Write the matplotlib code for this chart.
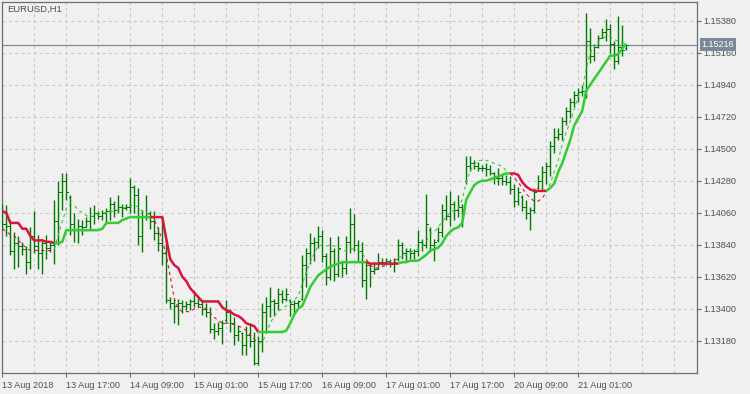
import matplotlib
matplotlib.use("Agg")
import matplotlib.pyplot as plt

plt.rcParams['font.family'] = ['Liberation Sans', 'DejaVu Sans']

# EURUSD H1 bars (index 0 = 13 Aug 2018 01:00)
highs = [1.1412, 1.1411, 1.1401, 1.1393, 1.1390, 1.1386, 1.1383, 1.1396, 1.1407, 1.1391,
         1.1388, 1.1391, 1.1386, 1.1415, 1.1428, 1.1433, 1.1433, 1.1418, 1.1406, 1.1402,
         1.1401, 1.1403, 1.1410, 1.1411, 1.1407, 1.1408, 1.1409, 1.1417, 1.1414, 1.1418,
         1.1412, 1.1412, 1.1430, 1.1425, 1.1423, 1.1408, 1.1418, 1.1407, 1.1407, 1.1396,
         1.1403, 1.1388, 1.1348, 1.1347, 1.1347, 1.1346, 1.1345, 1.1347, 1.1352, 1.1349,
         1.1345, 1.1344, 1.1341, 1.1330, 1.1331, 1.1332, 1.1346, 1.1340, 1.1334, 1.1329,
         1.1324, 1.1328, 1.1330, 1.1324, 1.1321, 1.1344, 1.1348, 1.1355, 1.1347, 1.1354,
         1.1353, 1.1354, 1.1347, 1.1346, 1.1346, 1.1377, 1.1382, 1.1392, 1.1389, 1.1397,
         1.1394, 1.1378, 1.1389, 1.1382, 1.1390, 1.1373, 1.1390, 1.1409, 1.1405, 1.1387,
         1.1386, 1.1373, 1.1371, 1.1372, 1.1378, 1.1375, 1.1375, 1.1374, 1.1375, 1.1388,
         1.1386, 1.1382, 1.1382, 1.1381, 1.1394, 1.1388, 1.1419, 1.1396, 1.1388, 1.1396,
         1.1412, 1.1418, 1.1421, 1.1414, 1.1418, 1.1412, 1.1445, 1.1445, 1.1442, 1.1441,
         1.1439, 1.1440, 1.1439, 1.1434, 1.1437, 1.1432, 1.1432, 1.1431, 1.1426, 1.1424,
         1.1418, 1.1415, 1.1410, 1.1423, 1.1432, 1.1438, 1.1441, 1.1455, 1.1464, 1.1464,
         1.1472, 1.1479, 1.1485, 1.1490, 1.1492, 1.1494, 1.1543, 1.1533, 1.1522, 1.1528,
         1.1533, 1.1539, 1.1536, 1.1524, 1.1541, 1.1535, 1.1522]
lows = [1.1394, 1.1390, 1.1377, 1.1367, 1.1369, 1.1377, 1.1364, 1.1367, 1.1378, 1.1367,
        1.1364, 1.1374, 1.1379, 1.1371, 1.1384, 1.1408, 1.1415, 1.1391, 1.1386, 1.1385,
        1.1391, 1.1396, 1.1394, 1.1398, 1.1402, 1.1401, 1.1398, 1.1401, 1.1403, 1.1406,
        1.1403, 1.1408, 1.1406, 1.1406, 1.1384, 1.1379, 1.1401, 1.1395, 1.1387, 1.1380,
        1.1370, 1.1344, 1.1340, 1.1330, 1.1329, 1.1337, 1.1339, 1.1339, 1.1341, 1.1341,
        1.1336, 1.1334, 1.1323, 1.1319, 1.1322, 1.1316, 1.1331, 1.1324, 1.1315, 1.1318,
        1.1308, 1.1308, 1.1314, 1.1301, 1.1301, 1.1310, 1.1323, 1.1334, 1.1335, 1.1339,
        1.1344, 1.1345, 1.1335, 1.1337, 1.1341, 1.1346, 1.1355, 1.1371, 1.1373, 1.1382,
        1.1372, 1.1356, 1.1360, 1.1359, 1.1362, 1.1362, 1.1364, 1.1378, 1.1380, 1.1373,
        1.1355, 1.1347, 1.1355, 1.1364, 1.1367, 1.1370, 1.1370, 1.1369, 1.1365, 1.1373,
        1.1374, 1.1373, 1.1374, 1.1374, 1.1376, 1.1380, 1.1382, 1.1379, 1.1373, 1.1386,
        1.1389, 1.1401, 1.1397, 1.1401, 1.1403, 1.1396, 1.1426, 1.1435, 1.1436, 1.1435,
        1.1435, 1.1431, 1.1432, 1.1426, 1.1425, 1.1425, 1.1425, 1.1419, 1.1410, 1.1411,
        1.1407, 1.1402, 1.1394, 1.1406, 1.1422, 1.1421, 1.1426, 1.1431, 1.1447, 1.1456,
        1.1456, 1.1466, 1.1471, 1.1479, 1.1482, 1.1486, 1.1485, 1.1509, 1.1510, 1.1519,
        1.1526, 1.1524, 1.1516, 1.1505, 1.1508, 1.1514, 1.1518]
opens = [1.1408, 1.1398, 1.1397, 1.1380, 1.1385, 1.1383, 1.1381, 1.1372, 1.1390, 1.1383,
         1.1378, 1.1385, 1.1382, 1.1384, 1.1400, 1.1420, 1.1428, 1.1417, 1.1398, 1.1395,
         1.1397, 1.1396, 1.1400, 1.1404, 1.1406, 1.1404, 1.1406, 1.1407, 1.1412, 1.1408,
         1.1410, 1.1409, 1.1410, 1.1424, 1.1418, 1.1390, 1.1404, 1.1406, 1.1400, 1.1392,
         1.1385, 1.1378, 1.1346, 1.1344, 1.1342, 1.1344, 1.1342, 1.1343, 1.1345, 1.1344,
         1.1343, 1.1340, 1.1338, 1.1326, 1.1325, 1.1327, 1.1332, 1.1338, 1.1330, 1.1322,
         1.1323, 1.1315, 1.1322, 1.1318, 1.1303, 1.1318, 1.1338, 1.1342, 1.1345, 1.1344,
         1.1350, 1.1347, 1.1346, 1.1343, 1.1344, 1.1347, 1.1370, 1.1378, 1.1385, 1.1386,
         1.1390, 1.1376, 1.1362, 1.1380, 1.1364, 1.1372, 1.1368, 1.1386, 1.1398, 1.1384,
         1.1380, 1.1360, 1.1370, 1.1366, 1.1367, 1.1372, 1.1372, 1.1373, 1.1371, 1.1374,
         1.1384, 1.1378, 1.1380, 1.1378, 1.1380, 1.1386, 1.1384, 1.1394, 1.1384, 1.1387,
         1.1393, 1.1408, 1.1404, 1.1412, 1.1408, 1.1410, 1.1428, 1.1438, 1.1440, 1.1438,
         1.1437, 1.1437, 1.1436, 1.1433, 1.1430, 1.1430, 1.1428, 1.1427, 1.1422, 1.1414,
         1.1417, 1.1410, 1.1406, 1.1408, 1.1423, 1.1428, 1.1434, 1.1438, 1.1452, 1.1458,
         1.1460, 1.1469, 1.1476, 1.1482, 1.1487, 1.1489, 1.1490, 1.1524, 1.1514, 1.1520,
         1.1526, 1.1530, 1.1532, 1.1522, 1.1510, 1.1520, 1.1519]
closes = [1.1398, 1.1397, 1.1380, 1.1385, 1.1383, 1.1381, 1.1372, 1.1390, 1.1383, 1.1378,
          1.1385, 1.1382, 1.1384, 1.1400, 1.1420, 1.1428, 1.1420, 1.1398, 1.1395, 1.1397,
          1.1396, 1.1400, 1.1404, 1.1406, 1.1404, 1.1406, 1.1407, 1.1412, 1.1408, 1.1410,
          1.1409, 1.1410, 1.1424, 1.1418, 1.1390, 1.1404, 1.1406, 1.1400, 1.1392, 1.1385,
          1.1378, 1.1346, 1.1344, 1.1342, 1.1344, 1.1342, 1.1343, 1.1345, 1.1344, 1.1343,
          1.1340, 1.1338, 1.1326, 1.1325, 1.1327, 1.1330, 1.1338, 1.1330, 1.1322, 1.1325,
          1.1315, 1.1322, 1.1318, 1.1303, 1.1318, 1.1338, 1.1342, 1.1345, 1.1344, 1.1350,
          1.1347, 1.1350, 1.1343, 1.1344, 1.1345, 1.1370, 1.1378, 1.1385, 1.1386, 1.1390,
          1.1376, 1.1362, 1.1380, 1.1364, 1.1382, 1.1368, 1.1386, 1.1398, 1.1384, 1.1380,
          1.1360, 1.1370, 1.1366, 1.1367, 1.1372, 1.1372, 1.1373, 1.1371, 1.1372, 1.1384,
          1.1378, 1.1380, 1.1378, 1.1380, 1.1386, 1.1384, 1.1398, 1.1384, 1.1386, 1.1393,
          1.1408, 1.1404, 1.1412, 1.1408, 1.1410, 1.1408, 1.1438, 1.1440, 1.1438, 1.1437,
          1.1437, 1.1436, 1.1433, 1.1430, 1.1430, 1.1428, 1.1427, 1.1422, 1.1414, 1.1420,
          1.1410, 1.1406, 1.1408, 1.1420, 1.1428, 1.1434, 1.1438, 1.1452, 1.1458, 1.1460,
          1.1469, 1.1476, 1.1482, 1.1487, 1.1489, 1.1490, 1.1524, 1.1514, 1.1520, 1.1526,
          1.1530, 1.1532, 1.1522, 1.1510, 1.1520, 1.1518, 1.15216]

# thick (slow) indicator line
slow_line = [1.1407, 1.1406, 1.1399, 1.1399, 1.1399, 1.1395, 1.1395, 1.1390, 1.1387, 1.1387,
             1.1387, 1.1386, 1.1386, 1.1385, 1.1385, 1.1386, 1.1394, 1.1394, 1.1394, 1.1394,
             1.1394, 1.1394, 1.1394, 1.1394, 1.1394, 1.1395, 1.1399, 1.1399, 1.1399, 1.1399,
             1.1401, 1.1402, 1.1403, 1.1403, 1.1403, 1.1403, 1.1403, 1.1403, 1.1403, 1.1403,
             1.1403, 1.1388, 1.1374, 1.1370, 1.1368, 1.1362, 1.1359, 1.1354, 1.1351, 1.1348,
             1.1345, 1.1345, 1.1345, 1.1345, 1.1345, 1.1341, 1.1339, 1.1338, 1.1336, 1.1335,
             1.1333, 1.1330, 1.1329, 1.1328, 1.1324, 1.1324, 1.1324, 1.1324, 1.1324, 1.1324,
             1.1324, 1.1325, 1.1330, 1.1336, 1.1340, 1.1342, 1.1348, 1.1355, 1.1359, 1.1363,
             1.1365, 1.1367, 1.1369, 1.1370, 1.1371, 1.1372, 1.1372, 1.1372, 1.1372, 1.1372,
             1.1372, 1.1372, 1.1371, 1.1371, 1.1371, 1.1371, 1.1371, 1.1371, 1.1371, 1.1371,
             1.1372, 1.1372, 1.1373, 1.1373, 1.1373, 1.1375, 1.1377, 1.1380, 1.1381, 1.1382,
             1.1385, 1.1390, 1.1393, 1.1395, 1.1396, 1.1399, 1.1415, 1.1420, 1.1425, 1.1427,
             1.1428, 1.1428, 1.1429, 1.1430, 1.1431, 1.1432, 1.1433, 1.1433, 1.1433, 1.1432,
             1.1427, 1.1424, 1.1422, 1.1421, 1.1421, 1.1421, 1.1421, 1.1423, 1.1426, 1.1434,
             1.1440, 1.1448, 1.1456, 1.1466, 1.1471, 1.1476, 1.1490, 1.1494, 1.1498, 1.1502,
             1.1506, 1.1510, 1.1514, 1.1514, 1.1515, 1.1519, 1.1522]
# thin dashed (fast) line
fast_line = [1.1395, 1.1393, 1.1391, 1.1390, 1.1387, 1.1384, 1.1382, 1.1380, 1.1380, 1.1380,
             1.1380, 1.1380, 1.1380, 1.1381, 1.1391, 1.1400, 1.1409, 1.1412, 1.1411, 1.1408,
             1.1406, 1.1404, 1.1403, 1.1404, 1.1405, 1.1406, 1.1406, 1.1407, 1.1407, 1.1408,
             1.1409, 1.1410, 1.1411, 1.1411, 1.1410, 1.1407, 1.1406, 1.1404, 1.1401, 1.1395,
             1.1387, 1.1377, 1.1362, 1.1347, 1.1340, 1.1338, 1.1338, 1.1338, 1.1340, 1.1341,
             1.1341, 1.1340, 1.1337, 1.1334, 1.1332, 1.1330, 1.1330, 1.1330, 1.1329, 1.1328,
             1.1327, 1.1325, 1.1322, 1.1319, 1.1316, 1.1317, 1.1323, 1.1330, 1.1335, 1.1338,
             1.1340, 1.1342, 1.1343, 1.1346, 1.1349, 1.1357, 1.1365, 1.1372, 1.1378, 1.1383,
             1.1384, 1.1383, 1.1384, 1.1383, 1.1381, 1.1380, 1.1380, 1.1381, 1.1381, 1.1380,
             1.1378, 1.1374, 1.1370, 1.1368, 1.1368, 1.1369, 1.1370, 1.1371, 1.1373, 1.1375,
             1.1376, 1.1377, 1.1379, 1.1380, 1.1381, 1.1383, 1.1386, 1.1391, 1.1393, 1.1396,
             1.1400, 1.1403, 1.1406, 1.1408, 1.1409, 1.1415, 1.1427, 1.1435, 1.1439, 1.1442,
             1.1442, 1.1442, 1.1441, 1.1440, 1.1439, 1.1438, 1.1435, 1.1433, 1.1430, 1.1427,
             1.1423, 1.1419, 1.1416, 1.1414, 1.1414, 1.1416, 1.1420, 1.1426, 1.1434, 1.1442,
             1.1453, 1.1461, 1.1469, 1.1477, 1.1486, 1.1490, 1.1505, 1.1516, 1.1520, 1.1524,
             1.1526, 1.1527, 1.1527, 1.1525, 1.1524, 1.1523, 1.1522]
# bar ranges where the indicator is in "down" (red) state
down_runs = [(0, 13), (37, 64), (91, 99), (127, 136)]

price_ticks = [1.13180, 1.13400, 1.13620, 1.13840, 1.14060, 1.14280,
               1.14500, 1.14720, 1.14940, 1.15160, 1.15380]
date_pos = [0, 16, 32, 48, 64, 80, 96, 112, 128, 144]
date_labels = ["13 Aug 2018", "13 Aug 17:00", "14 Aug 09:00", "15 Aug 01:00",
               "15 Aug 17:00", "16 Aug 09:00", "17 Aug 01:00", "17 Aug 17:00",
               "20 Aug 09:00", "21 Aug 01:00"]
last_price = 1.15216
symbol = "EURUSD,H1"

bg = '#f0f0f0'
frame = '#6e6e6e'
txt = '#505050'
up_c = '#32cd32'
dn_c = '#dc143c'
bar_c = '#007a00'

fig = plt.figure(figsize=(7.5, 3.94), dpi=100, facecolor=bg)
ax = fig.add_axes([2 / 750, 21 / 394, 695 / 750, 371 / 394])
ax.set_facecolor(bg)

n = len(highs)
xs = list(range(n))

# bars
ax.vlines(xs, lows, highs, color=bar_c, lw=1.0, zorder=3)
ax.hlines(opens, [x - 0.4 for x in xs], xs, color=bar_c, lw=0.6, zorder=3,
          antialiased=False)
ax.hlines(closes, xs, [x + 0.4 for x in xs], color=bar_c, lw=0.6, zorder=3,
          antialiased=False)


def is_down(i):
    for a, b in down_runs:
        if a <= i < b:
            return True
    return False


# split into runs of same colour
runs = []
start = 0
for i in range(1, n - 1):
    if is_down(i) != is_down(start):
        runs.append((start, i))
        start = i
runs.append((start, n - 1))

for a, b in runs:
    c = dn_c if is_down(a) else up_c
    ax.plot(xs[a:b + 1], fast_line[a:b + 1], color=c, lw=0.8,
            linestyle=(0, (3, 3)), zorder=4)
    ax.plot(xs[a:b + 1], slow_line[a:b + 1], color=c, lw=1.8,
            solid_capstyle='butt', zorder=5)

# current price line + tag
ax.axhline(last_price, color='#7f8a99', lw=0.9, zorder=2)
ax.annotate(f"{last_price:.5f}", xy=(1, last_price),
            xycoords=('axes fraction', 'data'), xytext=(3.2, 0),
            textcoords='offset points', ha='left', va='center',
            fontsize=6.5, color='white', annotation_clip=False,
            bbox=dict(boxstyle='square,pad=0.2', fc='#7b8898', ec='none'))

ax.text(0.0075, 0.981, symbol, transform=ax.transAxes, fontsize=6.8,
        color=txt, ha='left', va='center')

ax.set_xlim(-0.075, 173.7)
ax.set_ylim(1.12958, 1.15509)

ax.yaxis.tick_right()
ax.set_yticks(price_ticks)
ax.set_yticklabels([f"{p:.5f}" for p in price_ticks])
ax.set_xticks(date_pos)
ax.set_xticklabels(date_labels)
ax.set_xticks(list(range(0, 174, 8)), minor=True)
plt.setp(ax.get_xticklabels(), ha='left')

ax.tick_params(axis='y', length=3, width=0.8, color=frame, pad=1.5,
               labelsize=6.6, labelcolor=txt)
ax.tick_params(axis='x', which='major', length=3, width=0.8, color=frame,
               pad=2.5, labelsize=6.6, labelcolor=txt)
ax.tick_params(axis='x', which='minor', length=0)

ax.grid(True, axis='x', which='both', color='#c8c8c8', lw=0.75,
        linestyle=(0, (3, 3)), zorder=0)
ax.grid(True, axis='y', which='major', color='#c8c8c8', lw=0.75,
        linestyle=(0, (3, 3)), zorder=0)
ax.set_axisbelow(True)

for s in ax.spines.values():
    s.set_color(frame)
    s.set_linewidth(0.9)

fig.savefig('out.png', dpi=100, facecolor=bg)
